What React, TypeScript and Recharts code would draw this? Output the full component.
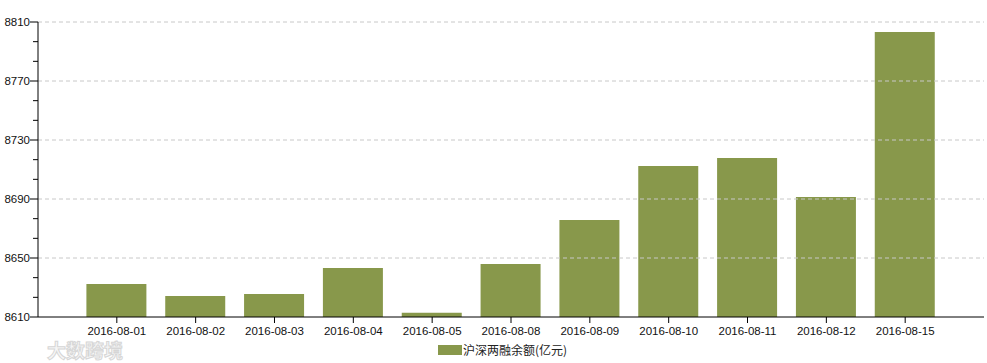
import React from "react";
import { BarChart, Bar, XAxis, YAxis, ReferenceLine } from "recharts";

const categories = [
  "2016-08-01", "2016-08-02", "2016-08-03", "2016-08-04", "2016-08-05",
  "2016-08-08", "2016-08-09", "2016-08-10", "2016-08-11", "2016-08-12", "2016-08-15",
];
const balances = [8632.4, 8624.2, 8625.6, 8643.2, 8612.9, 8645.9, 8675.8, 8712.4, 8717.8, 8691.4, 8803.2];
const majorTicks = [8610, 8650, 8690, 8730, 8770, 8810];
const seriesName = "沪深两融余额(亿元)";

const allTicks: number[] = [];
majorTicks.forEach((t, i) => {
  allTicks.push(t);
  if (i < majorTicks.length - 1) {
    allTicks.push(t + 40 / 3);
    allTicks.push(t + 80 / 3);
  }
});

const data = categories.map((c, i) => ({ date: c, value: balances[i] }));

const BAR = "#88984b";
const FONT = "'Liberation Sans', Arial, sans-serif";

const YTick = (props: any) => {
  const { x, y, payload } = props;
  const isMajor = majorTicks.some((m) => Math.abs(m - payload.value) < 1e-6);
  return (
    <g>
      <line x1={x - (isMajor ? 8 : 5)} x2={x} y1={y} y2={y} stroke="#000" strokeWidth={1} />
      {isMajor && (
        <text x={x - 8} y={y} dy={4} textAnchor="end" fontSize={11.5} fontFamily={FONT} fill="#111">
          {payload.value}
        </text>
      )}
    </g>
  );
};

export default function App() {
  return (
    <div style={{ position: "absolute", left: 0, top: 0, width: 987, height: 363, background: "#fff" }}>
      <BarChart
        width={987}
        height={363}
        data={data}
        margin={{ top: 22, right: 3, left: 0, bottom: 16 }}
        barSize={60}
      >
        {majorTicks.slice(1).map((t) => (
          <ReferenceLine key={t} y={t} stroke="#c8c8c8" strokeDasharray="4 3" />
        ))}
        <XAxis
          dataKey="date"
          height={30}
          padding={{ left: 39.4, right: 39.4 }}
          axisLine={{ stroke: "#000" }}
          tickLine={{ stroke: "#000" }}
          tickSize={6}
          tickMargin={4}
          interval={0}
          tick={{ fontSize: 11.5, fontFamily: FONT, fill: "#111" }}
        />
        <YAxis
          width={38}
          domain={[8610, 8810]}
          ticks={allTicks}
          interval={0}
          allowDataOverflow
          axisLine={{ stroke: "#000" }}
          tickLine={false}
          tickSize={0}
          tickMargin={0}
          tick={<YTick />}
        />
        <Bar dataKey="value" name={seriesName} fill={BAR} isAnimationActive={false} />
      </BarChart>
      <div
        style={{
          position: "absolute",
          left: 438,
          top: 342,
          display: "flex",
          alignItems: "center",
          fontFamily: "'Noto Sans CJK SC', sans-serif",
          fontSize: 12,
          color: "#222",
          lineHeight: "16px",
        }}
      >
        <span style={{ display: "inline-block", width: 24, height: 10, background: BAR, marginRight: 1 }} />
        <span>{seriesName}</span>
      </div>
      <div
        style={{
          position: "absolute",
          left: 47,
          top: 340,
          fontFamily: "'Noto Sans CJK SC', sans-serif",
          fontSize: 19,
          fontWeight: 700,
          color: "#f6f6f6",
          WebkitTextStroke: "1px #d6d6d6",
          lineHeight: "20px",
        }}
      >
        大数跨境
      </div>
    </div>
  );
}
